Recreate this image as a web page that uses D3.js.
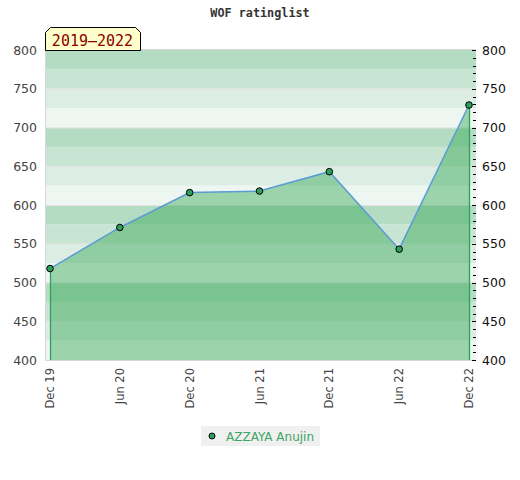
<!DOCTYPE html>
<html><head><meta charset="utf-8">
<script src="https://cdn.jsdelivr.net/npm/d3@7"></script>
<style>body{margin:0;background:#fff}</style>
</head><body>
<svg id="c" width="520" height="480"></svg>
<script>
const categories = ["Dec 19","Jun 20","Dec 20","Jun 21","Dec 21","Jun 22","Dec 22"];
const ratings = [518, 571, 616, 618, 643, 543, 729];
const yTicks = [400, 450, 500, 550, 600, 650, 700, 750, 800];
const seriesName = "AZZAYA Anujin";
const title = "WOF ratinglist";
const period = "2019\u20132022";

const svg = d3.select("#c");
const L = 45, R = 476, T = 50, B = 360;
const x = d3.scalePoint().domain(categories).range([50, 469]);
const y = d3.scaleLinear().domain([400, 800]).range([B, T]);

// background bands
const bandCols = ["#b3dcc3", "#c8e5d3", "#dcede3", "#eef6f1"];
const bands = d3.range(400, 800, 25);
svg.append("g").selectAll("rect").data(bands).join("rect")
  .attr("x", L).attr("width", R - L)
  .attr("y", d => y(d + 25)).attr("height", d => y(d) - y(d + 25))
  .attr("fill", d => bandCols[((775 - d) / 25) % 4]);
// grid lines
svg.append("g").selectAll("line").data(yTicks.filter(v => v > 400 && v < 800)).join("line")
  .attr("x1", L).attr("x2", R).attr("y1", d => y(d) + 0.5).attr("y2", d => y(d) + 0.5)
  .attr("stroke", "#e2e2e2").attr("stroke-width", 1);
// frame
svg.append("path").attr("d", `M${L+0.5},${T}V${B+0.5}H${R}`).attr("fill", "none").attr("stroke", "#d8d8d8");
svg.append("line").attr("x1", L).attr("x2", R).attr("y1", T - 0.5).attr("y2", T - 0.5).attr("stroke", "#d8d8d8");

const data = categories.map((c, i) => ({c, v: ratings[i]}));
// area
svg.append("path").datum(data)
  .attr("d", d3.area().x(d => x(d.c)).y0(y(400)).y1(d => y(d.v)))
  .attr("fill", "rgb(40,163,75)").attr("fill-opacity", 0.42);
// drop lines
[data[0], data[data.length - 1]].forEach(d => {
  svg.append("line").attr("x1", x(d.c) + 0.5).attr("x2", x(d.c) + 0.5)
    .attr("y1", y(d.v)).attr("y2", B).attr("stroke", "#2ea05a").attr("stroke-width", 1.3);
});
// line
svg.append("path").datum(data)
  .attr("d", d3.line().x(d => x(d.c)).y(d => y(d.v)))
  .attr("fill", "none").attr("stroke", "#5b9bd5").attr("stroke-width", 1.5);
// markers
svg.append("g").selectAll("circle").data(data).join("circle")
  .attr("cx", d => x(d.c)).attr("cy", d => y(d.v)).attr("r", 3.3)
  .attr("fill", "#2e9e5b").attr("stroke", "#000").attr("stroke-width", 1);

// right axis minor ticks
const minor = d3.range(400, 801, 10);
svg.append("g").selectAll("line").data(minor).join("line")
  .attr("x1", d => d % 50 === 0 ? 472 : 473).attr("x2", 476)
  .attr("y1", d => Math.round(y(d)) + 0.5).attr("y2", d => Math.round(y(d)) + 0.5)
  .attr("stroke", "#000").attr("stroke-width", 1);

// axis labels
const font = "DejaVu Sans, sans-serif";
svg.append("g").selectAll("text").data(yTicks).join("text")
  .attr("x", 37).attr("y", d => y(d) + 4.5).attr("text-anchor", "end")
  .attr("font-family", font).attr("font-size", 12.5).attr("fill", "#444").text(d => d);
svg.append("g").selectAll("text").data(yTicks).join("text")
  .attr("x", 482).attr("y", d => y(d) + 4.5).attr("text-anchor", "start")
  .attr("font-family", font).attr("font-size", 12.5).attr("fill", "#111").text(d => d);
svg.append("g").selectAll("text").data(categories).join("text")
  .attr("transform", d => `translate(${x(d) + 4},368) rotate(-90)`)
  .attr("text-anchor", "end")
  .attr("font-family", font).attr("font-size", 11.5).attr("fill", "#444").text(d => d);

// title
svg.append("text").attr("x", 260).attr("y", 17).attr("text-anchor", "middle")
  .attr("font-family", "DejaVu Sans Mono, monospace").attr("font-weight", "bold")
  .attr("font-size", 11.8).attr("fill", "#333").text(title);

// period badge
svg.append("path").attr("d", "M45.5,50.5V32.5L50.5,27.5H135.5L140.5,32.5V50.5Z")
  .attr("fill", "#ffffcc").attr("stroke", "#000").attr("stroke-width", 1);
svg.append("text").attr("x", 92.5).attr("y", 45.5).attr("text-anchor", "middle")
  .attr("font-family", "DejaVu Sans Mono, monospace").attr("font-size", 15)
  .attr("fill", "#8b0000").text(period);

// legend
svg.append("rect").attr("x", 201).attr("y", 426).attr("width", 119).attr("height", 20).attr("fill", "#f0f0f0");
svg.append("circle").attr("cx", 212).attr("cy", 436).attr("r", 3).attr("fill", "#2e9e5b").attr("stroke", "#000");
svg.append("text").attr("x", 226).attr("y", 440.5).attr("font-family", font).attr("font-size", 12)
  .attr("fill", "#3aa564").text(seriesName);
</script>
</body></html>
